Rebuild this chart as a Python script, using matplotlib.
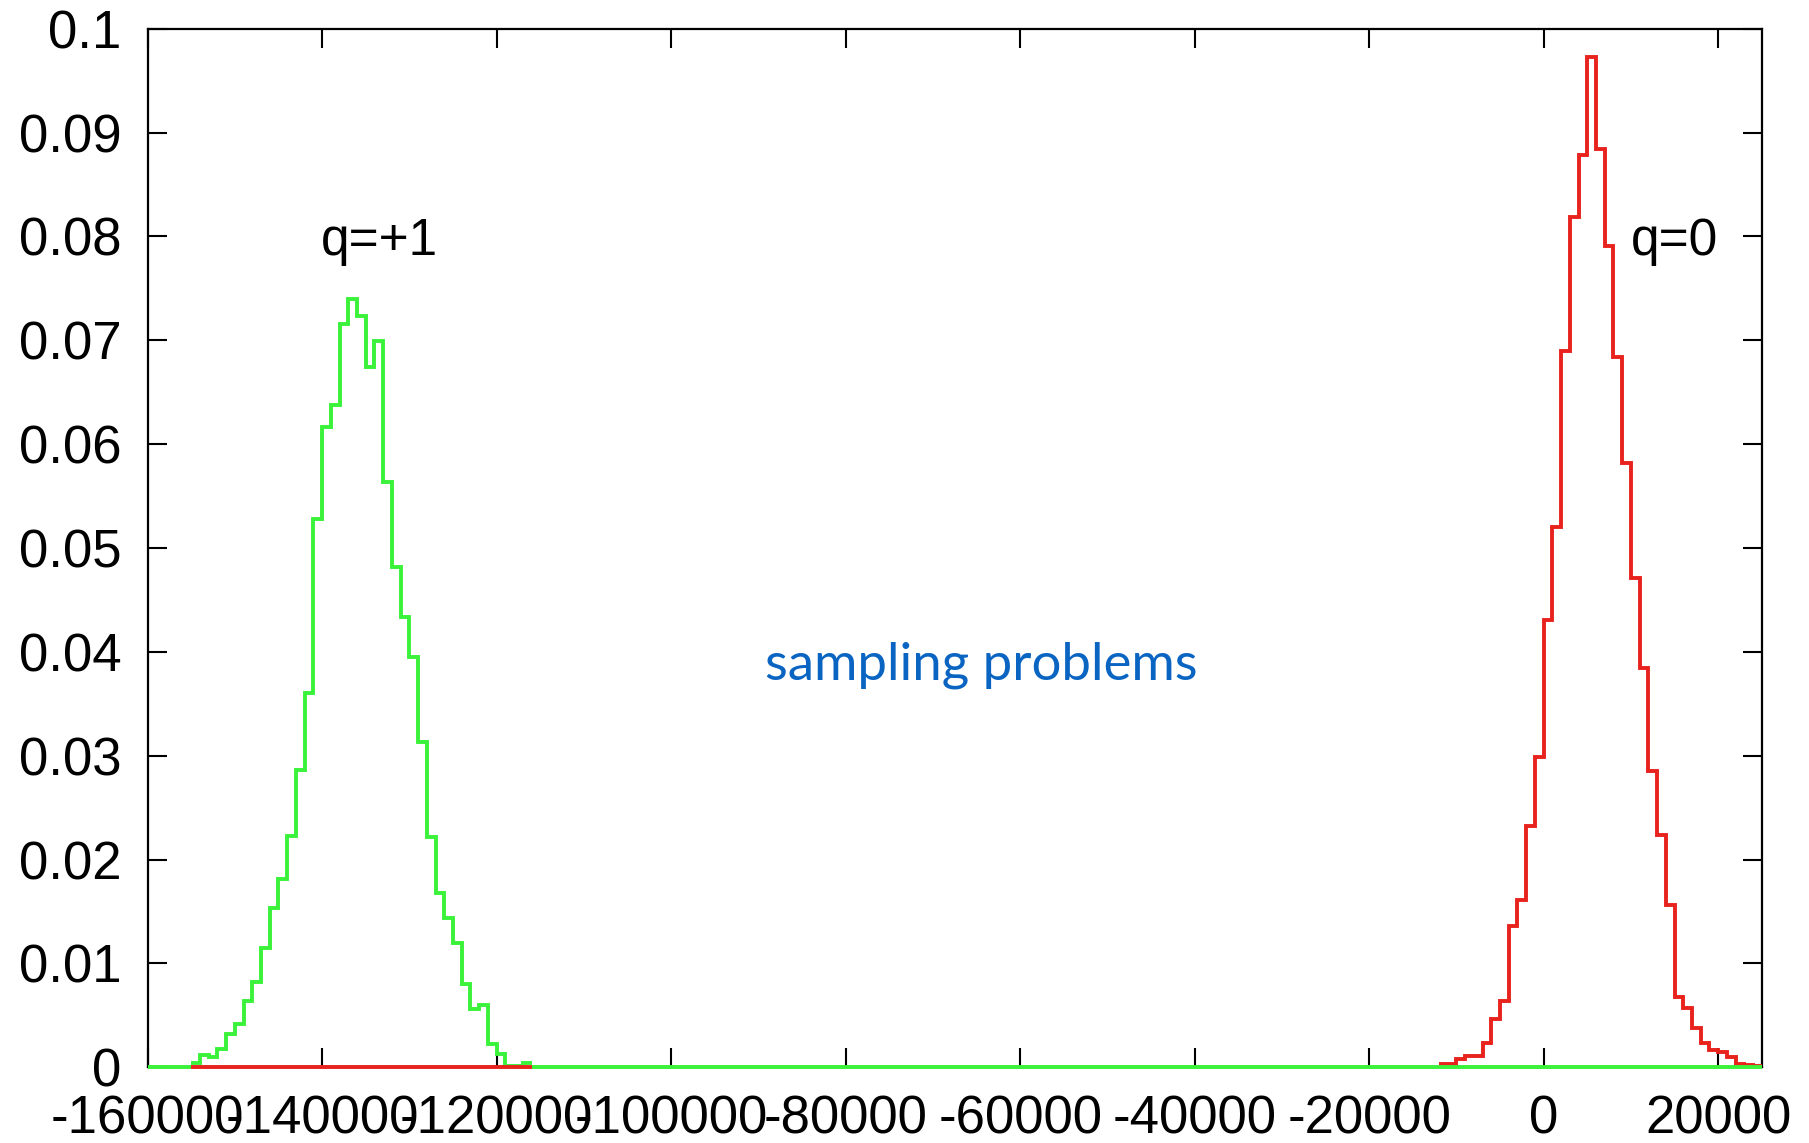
import matplotlib
matplotlib.use("Agg")
import matplotlib.pyplot as plt
import numpy as np

# ---- data ----
bin_width = 1000
green_start = -155000  # q=+1
green_vals = [0.0004, 0.0012, 0.0010, 0.0018, 0.0032, 0.0042, 0.0064, 0.0082,
              0.0115, 0.0153, 0.0181, 0.0223, 0.0286, 0.0360, 0.0528, 0.0617,
              0.0638, 0.0716, 0.0740, 0.0723, 0.0674, 0.0699, 0.0564, 0.0482,
              0.0434, 0.0395, 0.0313, 0.0222, 0.0168, 0.0144, 0.0120, 0.0080,
              0.0056, 0.0060, 0.0022, 0.0013, 0.0001, 0.0001, 0.0004]
red_start = -12000  # q=0
red_vals = [0.0003, 0.0003, 0.0008, 0.0011, 0.0011, 0.0023, 0.0046, 0.0064,
            0.0136, 0.0161, 0.0232, 0.0299, 0.0431, 0.0520, 0.0690, 0.0819,
            0.0878, 0.0973, 0.0884, 0.0791, 0.0684, 0.0582, 0.0471, 0.0384,
            0.0285, 0.0224, 0.0156, 0.0068, 0.0057, 0.0038, 0.0023, 0.0017,
            0.0015, 0.0010, 0.0003, 0.0002, 0.0001]
x_ticks = [-160000, -140000, -120000, -100000, -80000, -60000, -40000, -20000, 0, 20000]
y_ticks = [0, 0.01, 0.02, 0.03, 0.04, 0.05, 0.06, 0.07, 0.08, 0.09, 0.1]
x_range = (-160000, 25000)
y_range = (0, 0.1)

GREEN = "#3af23a"
RED = "#e8231e"
BLUE = "#0a64c2"

plt.rcParams['font.family'] = ['Liberation Sans', 'DejaVu Sans']

fig = plt.figure(figsize=(18.09, 11.43), dpi=100)
ax = fig.add_axes([0.0816, 0.0663, 0.9739 - 0.0816, 0.9748 - 0.0663])

g_edges = green_start + bin_width * np.arange(len(green_vals) + 1)
r_edges = red_start + bin_width * np.arange(len(red_vals) + 1)

lw = 2.8
ax.stairs(green_vals, g_edges, color=GREEN, lw=lw, zorder=3, clip_on=False, baseline=None)
ax.stairs(red_vals, r_edges, color=RED, lw=lw, zorder=3, clip_on=False, baseline=None)
# zero lines outside each histogram's range
ax.plot([x_range[0], g_edges[0]], [0, 0], color=GREEN, lw=lw, zorder=4, clip_on=False, solid_capstyle='butt')
ax.plot([g_edges[-1], x_range[1]], [0, 0], color=GREEN, lw=lw, zorder=4, clip_on=False, solid_capstyle='butt')
ax.plot([g_edges[0], g_edges[-1]], [0, 0], color=RED, lw=lw, zorder=5, clip_on=False, solid_capstyle='butt')

ax.set_xlim(*x_range)
ax.set_ylim(*y_range)
ax.set_xticks(x_ticks)
ax.set_xticklabels([str(v) for v in x_ticks])
ax.set_yticks(y_ticks)
ax.set_yticklabels(["0" if v == 0 else ("0.1" if v == 0.1 else f"{v:.2f}") for v in y_ticks])

ax.tick_params(direction='in', length=14, width=1.5, top=True, right=True, labelsize=38)
ax.tick_params(axis='x', pad=20)
ax.tick_params(axis='y', pad=19)
for s in ax.spines.values():
    s.set_linewidth(1.6)

ax.text(-133400, 0.0795, "q=+1", fontsize=37, ha='center', va='center')
ax.text(14960, 0.0795, "q=0", fontsize=37, ha='center', va='center')
ax.text(-64450, 0.0387, "sampling problems", fontsize=38, ha='center', va='center',
        color=BLUE, family=['Lato', 'DejaVu Sans'])

fig.savefig("out.png", dpi=100)
